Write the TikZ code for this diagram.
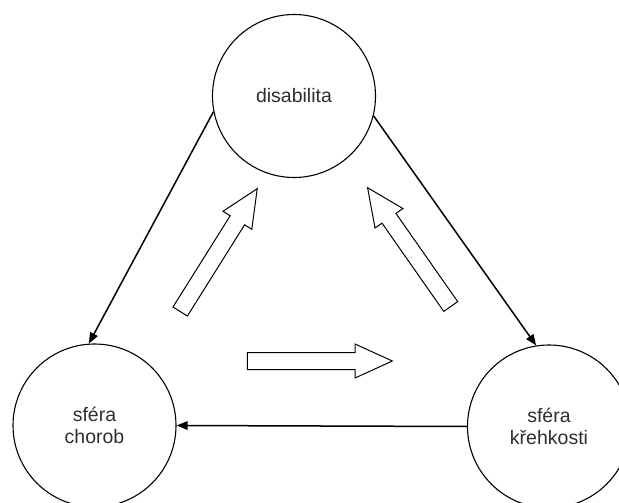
\documentclass[tikz,border=0pt]{standalone}
\usepackage{fontspec}
\setmainfont{Liberation Sans}
\usetikzlibrary{arrows.meta,shapes.arrows}
\begin{document}
\begin{tikzpicture}[x=1pt,y=-1pt,
  circ/.style={circle,draw=black,line width=1.1pt,minimum size=163pt,inner sep=0pt,
    align=center,font=\fontsize{19.5}{22}\selectfont,text=black!82},
  conn/.style={line width=1.5pt,draw=black,-{Triangle[length=11pt,width=8.5pt]}},
  blockarrow/.style={single arrow,draw=black,line width=1pt,fill=white,
    minimum height=145pt,minimum width=33pt,inner sep=8pt,
    single arrow head extend=8.5pt,single arrow tip angle=49}]
\useasboundingbox (0,0) rectangle (619,503);
\clip (0,0) rectangle (619,503);
\node[circ] (dis) at (294,96) {disabilita};
\node[circ] (cho) at (94.5,425.5) {sféra\\chorob};
\node[circ] (kre) at (549,426.5) {sféra\\křehkosti};
\draw[conn] (dis.191.7) -- (cho.94.5);
\draw[conn] (dis.346) -- (kre.99);
\draw[conn] (kre.180) -- (cho.0);
\node[blockarrow,rotate=57.9] (b1) at (213.75,258) {};
\node[blockarrow,rotate=125] (b2) at (414.5,254.75) {};
\node[blockarrow] (b3) at (310.5,361) {};
\end{tikzpicture}
\end{document}
